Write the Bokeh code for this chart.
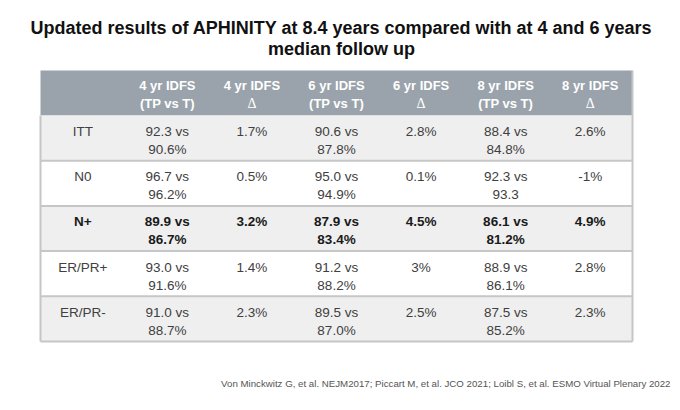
from bokeh.plotting import figure
from bokeh.models import Range1d
from bokeh.core.properties import value
from bokeh.embed import file_html
from bokeh.resources import INLINE

title_lines = ["Updated results of APHINITY at 8.4 years compared with at 4 and 6 years",
               "median follow up"]
header_top = ["", "4 yr IDFS", "4 yr IDFS", "6 yr IDFS", "6 yr IDFS", "8 yr IDFS", "8 yr IDFS"]
header_bot = ["", "(TP vs T)", "Δ", "(TP vs T)", "Δ", "(TP vs T)", "Δ"]
subgroups = ["ITT", "N0", "N+", "ER/PR+", "ER/PR-"]
bold_rows = [False, False, True, False, False]
idfs4_line1 = ["92.3 vs", "96.7 vs", "89.9 vs", "93.0 vs", "91.0 vs"]
idfs4_line2 = ["90.6%", "96.2%", "86.7%", "91.6%", "88.7%"]
delta4 = ["1.7%", "0.5%", "3.2%", "1.4%", "2.3%"]
idfs6_line1 = ["90.6 vs", "95.0 vs", "87.9 vs", "91.2 vs", "89.5 vs"]
idfs6_line2 = ["87.8%", "94.9%", "83.4%", "88.2%", "87.0%"]
delta6 = ["2.8%", "0.1%", "4.5%", "3%", "2.5%"]
idfs8_line1 = ["88.4 vs", "92.3 vs", "86.1 vs", "88.9 vs", "87.5 vs"]
idfs8_line2 = ["84.8%", "93.3", "81.2%", "86.1%", "85.2%"]
delta8 = ["2.6%", "-1%", "4.9%", "2.8%", "2.3%"]
footnote = "Von Minckwitz G, et al. NEJM2017; Piccart M, et al. JCO 2021; Loibl S, et al. ESMO Virtual Plenary 2022"

FONT = "Liberation Sans"
SERIF = "Liberation Serif"

W, H = 680, 410
p = figure(width=W, height=H, output_backend="svg", toolbar_location=None,
           x_range=Range1d(0, W), y_range=Range1d(H, 0),
           min_border=0)
p.axis.visible = False
p.grid.visible = False
p.outline_line_color = None
p.background_fill_color = "white"

# table geometry
x0, x1 = 40, 632
ncol = 7
cw = (x1 - x0) / ncol
head_top, head_bot = 70, 115
rh = 45.2
nrow = len(subgroups)

# header band
p.quad(left=[x0], right=[x1], top=[head_top], bottom=[head_bot],
       fill_color="#9aa3ab", line_color=None)

# body rows
lefts = [x0] * nrow
rights = [x1] * nrow
tops = [head_bot + i * rh for i in range(nrow)]
bots = [head_bot + (i + 1) * rh for i in range(nrow)]
fills = ["#efefef" if i % 2 == 0 else "#ffffff" for i in range(nrow)]
p.quad(left=lefts, right=rights, top=tops, bottom=bots, fill_color=fills,
       line_color=None)
p.segment(x0=lefts, x1=rights, y0=bots, y1=bots, line_color="#c6c6c6", line_width=2)
tbl_bot = bots[-1]
p.segment(x0=[x0, x1], x1=[x0, x1], y0=[head_bot, head_top], y1=[tbl_bot, tbl_bot],
          line_color="#c6c6c6", line_width=2)

# header texts
cx = [x0 + (j + 0.5) * cw for j in range(ncol)]
p.text(x=cx, y=[head_top + 15] * ncol, text=header_top, text_align="center",
       text_baseline="middle", text_color="white", text_font=value(FONT),
       text_font_style="bold", text_font_size="13px")
tp_idx = [j for j in range(ncol) if header_bot[j] and header_bot[j] != "Δ"]
d_idx = [j for j in range(ncol) if header_bot[j] == "Δ"]
p.text(x=[cx[j] for j in tp_idx], y=[head_top + 33] * len(tp_idx),
       text=[header_bot[j] for j in tp_idx], text_align="center",
       text_baseline="middle", text_color="white", text_font=value(FONT),
       text_font_style="bold", text_font_size="13px")
p.text(x=[cx[j] for j in d_idx], y=[head_top + 33] * len(d_idx),
       text=[header_bot[j] for j in d_idx], text_align="center",
       text_baseline="middle", text_color="white", text_font=value(SERIF),
       text_font_size="14px")

cols1 = [subgroups, idfs4_line1, delta4, idfs6_line1, delta6, idfs8_line1, delta8]
cols2 = [[""] * nrow, idfs4_line2, [""] * nrow, idfs6_line2, [""] * nrow, idfs8_line2, [""] * nrow]
for i in range(nrow):
    style = "bold" if bold_rows[i] else "normal"
    color = "#1a1a1a" if bold_rows[i] else "#404040"
    y1 = tops[i] + 16
    y2 = tops[i] + 34
    p.text(x=cx, y=[y1] * ncol, text=[c[i] for c in cols1], text_align="center",
           text_baseline="middle", text_color=color, text_font=value(FONT),
           text_font_style=style, text_font_size="13.5px")
    p.text(x=cx, y=[y2] * ncol, text=[c[i] for c in cols2], text_align="center",
           text_baseline="middle", text_color=color, text_font=value(FONT),
           text_font_style=style, text_font_size="13.5px")

# title
p.text(x=[341, 341], y=[27, 48], text=title_lines, text_align="center",
       text_baseline="middle", text_color="#111111", text_font=value(FONT),
       text_font_style="bold", text_font_size="18px")

# footnote
p.text(x=[670], y=[383], text=[footnote], text_align="right", text_baseline="middle",
       text_color="#555555", text_font=value(FONT), text_font_size="9.7px")

open("out.html", "w").write(file_html(p, INLINE))
